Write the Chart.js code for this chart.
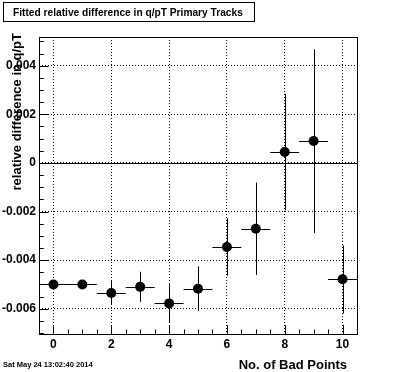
<!DOCTYPE html>
<html>
<head>
<meta charset="utf-8">
<script src="https://cdn.jsdelivr.net/npm/chart.js@4"></script>
<style>
  html, body { margin: 0; padding: 0; background: #fff; }
  #wrap { width: 396px; height: 372px; }
</style>
</head>
<body>
<div id="wrap"><canvas id="chart"></canvas></div>
<script>
// number of bad points (bin centres)
const badPoints = [0, 1, 2, 3, 4, 5, 6, 7, 8, 9, 10];
// fitted relative difference in q/pT and its error
const relDiff = [-0.00500, -0.00500, -0.00535, -0.00510, -0.00578, -0.00518, -0.00346, -0.00271, 0.00045, 0.00090, -0.00479];
const relDiffErr = [0.00008, 0.00008, 0.00048, 0.00062, 0.00080, 0.00092, 0.00118, 0.00190, 0.00240, 0.00378, 0.00140];
const binHalfWidth = 0.5;
const xTicks = [0, 2, 4, 6, 8, 10];
const yTicks = [-0.006, -0.004, -0.002, 0, 0.002, 0.004];

const titleText = 'Fitted relative difference in q/pT Primary Tracks';
const xTitle = 'No. of Bad Points';
const yTitle = 'relative difference in q/pT';
const dateText = 'Sat May 24 13:02:40 2014';

const FONT = '"Liberation Sans", Arial, Helvetica, sans-serif';

const rootStyle = {
    id: 'rootStyle',
    beforeDraw(chart) {
        const c = chart.ctx;
        c.save();
        c.fillStyle = '#fff';
        c.fillRect(0, 0, chart.width, chart.height);
        c.restore();
    },
    beforeDatasetsDraw(chart) {
        // error bars
        const c = chart.ctx;
        const xs = chart.scales.x, ys = chart.scales.y;
        c.save();
        c.strokeStyle = '#000';
        c.lineWidth = 1;
        c.beginPath();
        badPoints.forEach((b, i) => {
            const px = Math.round(xs.getPixelForValue(b)) + 0.5;
            const py = Math.round(ys.getPixelForValue(relDiff[i])) + 0.5;
            c.moveTo(px, ys.getPixelForValue(relDiff[i] + relDiffErr[i]));
            c.lineTo(px, ys.getPixelForValue(relDiff[i] - relDiffErr[i]));
            c.moveTo(xs.getPixelForValue(b - binHalfWidth), py);
            c.lineTo(xs.getPixelForValue(b + binHalfWidth), py);
        });
        c.stroke();
        c.restore();
    },
    afterDraw(chart) {
        const c = chart.ctx;
        const a = chart.chartArea;
        const xs = chart.scales.x, ys = chart.scales.y;
        c.save();
        c.strokeStyle = '#000';
        c.lineWidth = 1;

        // zero line
        const y0 = Math.round(ys.getPixelForValue(0)) + 0.5;
        c.beginPath();
        c.moveTo(a.left, y0);
        c.lineTo(a.right, y0);
        c.stroke();

        // frame
        c.strokeRect(Math.round(a.left) + 0.5, Math.round(a.top) + 0.5,
            Math.round(a.right - a.left), Math.round(a.bottom - a.top));

        // inner ticks
        c.beginPath();
        for (let v = -0.5; v <= 10.5; v += 0.5) {
            const px = Math.round(xs.getPixelForValue(v)) + 0.5;
            const len = (v % 2 === 0) ? 9 : 4.5;
            c.moveTo(px, a.bottom);
            c.lineTo(px, a.bottom - len);
        }
        for (let k = -14; k <= 10; k++) {
            const v = k * 0.0005;
            if (v < ys.min || v > ys.max) continue;
            const py = Math.round(ys.getPixelForValue(v)) + 0.5;
            const len = (k % 4 === 0) ? 9.5 : 4.8;
            c.moveTo(a.left, py);
            c.lineTo(a.left + len, py);
        }
        c.stroke();

        // title box
        c.fillStyle = '#fff';
        c.fillRect(3, 2, 251, 20);
        c.strokeRect(3.5, 2.5, 251, 19);
        c.fillStyle = '#000';
        c.font = 'bold 10.2px ' + FONT;
        c.textBaseline = 'alphabetic';
        c.textAlign = 'left';
        c.fillText(titleText, 13, 16);

        // x title
        c.font = 'bold 13px ' + FONT;
        c.textAlign = 'right';
        c.fillText(xTitle, 347, 369);

        // y title
        c.save();
        c.translate(21, 33);
        c.rotate(-Math.PI / 2);
        c.textAlign = 'right';
        c.fillText(yTitle, 0, 0);
        c.restore();

        // date
        c.font = 'bold 7.5px ' + FONT;
        c.textAlign = 'left';
        c.fillText(dateText, 3, 367);
        c.restore();
    }
};

new Chart(document.getElementById('chart'), {
    type: 'scatter',
    data: {
        datasets: [{
            data: badPoints.map((b, i) => ({ x: b, y: relDiff[i] })),
            backgroundColor: '#000',
            borderColor: '#000',
            borderWidth: 0,
            pointRadius: 5,
            pointHoverRadius: 5
        }]
    },
    options: {
        responsive: true,
        maintainAspectRatio: false,
        animation: false,
        events: [],
        layout: { padding: { top: 37, right: 39, bottom: 0, left: 0 } },
        plugins: {
            legend: { display: false },
            title: { display: false },
            tooltip: { enabled: false }
        },
        scales: {
            x: {
                type: 'linear',
                min: -0.5,
                max: 10.5,
                afterBuildTicks: s => { s.ticks = xTicks.map(v => ({ value: v })); },
                afterFit: s => { s.height = 38; },
                ticks: {
                    color: '#000',
                    padding: 3,
                    maxRotation: 0,
                    autoSkip: false,
                    font: { family: FONT, size: 12, weight: 'bold' },
                    callback: v => String(v)
                },
                grid: { color: '#000', lineWidth: 1, drawTicks: false },
                border: { display: false, dash: [1, 2] }
            },
            y: {
                type: 'linear',
                min: -0.00704,
                max: 0.00518,
                afterBuildTicks: s => { s.ticks = yTicks.map(v => ({ value: v })); },
                afterFit: s => { s.width = 39; },
                ticks: {
                    color: '#000',
                    padding: 3,
                    autoSkip: false,
                    font: { family: FONT, size: 12, weight: 'bold' },
                    callback: v => (v === 0 ? '0' : v.toFixed(3))
                },
                grid: { color: '#000', lineWidth: 1, drawTicks: false },
                border: { display: false, dash: [1, 2] }
            }
        }
    },
    plugins: [rootStyle]
});
</script>
</body>
</html>
